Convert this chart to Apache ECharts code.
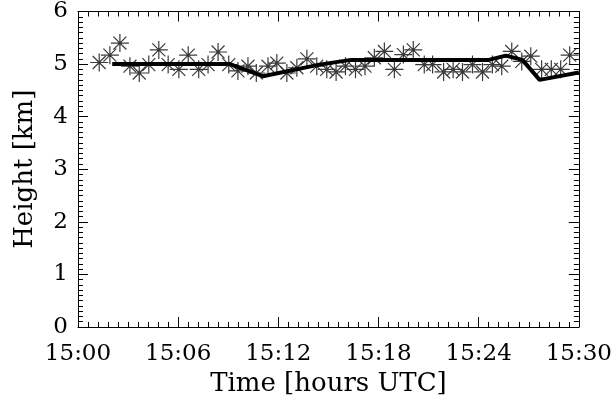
<!DOCTYPE html>
<html>
<head>
    <meta charset="UTF-8">
    <title>Height</title>
    <script type="text/javascript" src="https://cdn.jsdelivr.net/npm/echarts@6/dist/echarts.min.js"></script>
</head>
<body style="margin:0">
    <div id="chart" style="width:615px; height:404px;"></div>
    <script>
        // minutes after 15:00
        var starTimes = [1.27, 1.91, 2.51, 3.11, 3.67, 4.24, 4.84, 5.40, 6.04, 6.60, 7.23, 7.79, 8.39, 9.03,
            9.58, 10.18, 10.68, 11.38, 11.91, 12.51, 13.11, 13.71, 14.30, 14.90, 15.46, 16.02, 16.62,
            17.19, 17.75, 18.35, 18.95, 19.49, 20.08, 20.74, 21.24, 21.90, 22.47, 23.03, 23.63, 24.23,
            24.82, 25.38, 25.98, 26.58, 27.12, 27.77, 28.35, 28.91, 29.45];
        var starHeights = [5.03, 5.17, 5.40, 4.96, 4.83, 4.99, 5.27, 4.99, 4.90, 5.17, 4.90, 4.99, 5.23, 4.99,
            4.87, 4.96, 4.83, 4.96, 5.02, 4.83, 4.93, 5.10, 4.96, 4.90, 4.85, 4.96, 4.90,
            4.96, 5.12, 5.24, 4.90, 5.18, 5.27, 4.99, 4.99, 4.85, 4.90, 4.85, 4.99, 4.85,
            4.99, 4.96, 5.24, 5.05, 5.15, 4.90, 4.90, 4.90, 5.17];
        var lineTimes = [2.05, 9.1, 11.08, 14.46, 16.36, 24.6, 25.62, 26.62, 27.65, 30];
        var lineHeights = [5.0, 5.0, 4.77, 4.99, 5.08, 5.08, 5.16, 5.08, 4.70, 4.84];
        var xTicks = ['15:00', '15:06', '15:12', '15:18', '15:24', '15:30'];

        var font = 'DejaVu Serif';
        var starData = starTimes.map(function (t, i) { return [t, starHeights[i]]; });
        var lineData = lineTimes.map(function (t, i) { return [t, lineHeights[i]]; });

        function axisBase(show) {
            return {
                axisLine: {show: true, onZero: false, lineStyle: {color: '#000', width: 1}},
                axisTick: {show: true, inside: true, length: 10, lineStyle: {color: '#000'}},
                minorTick: {show: true, splitNumber: 10, length: 5, lineStyle: {color: '#000'}},
                splitLine: {show: false},
                axisLabel: {show: show, color: '#000', fontFamily: font, fontSize: 23}
            };
        }

        var xMain = Object.assign(axisBase(true), {
            type: 'value', min: 0, max: 30, interval: 6, position: 'bottom',
            name: 'Time [hours UTC]', nameLocation: 'middle', nameGap: 44,
            nameTextStyle: {color: '#000', fontFamily: font, fontSize: 26}
        });
        xMain.axisLabel.margin = 16;
        xMain.axisLabel.formatter = function (v) { return xTicks[Math.round(v / 6)]; };

        var xTop = Object.assign(axisBase(false), {
            type: 'value', min: 0, max: 30, interval: 6, position: 'top'
        });

        var yMain = Object.assign(axisBase(true), {
            type: 'value', min: 0, max: 6, interval: 1, position: 'left',
            name: 'Height [km]', nameLocation: 'middle', nameGap: 40, nameRotate: 90,
            nameTextStyle: {color: '#000', fontFamily: font, fontSize: 26}
        });
        yMain.axisLabel.margin = 10;

        var yRight = Object.assign(axisBase(false), {
            type: 'value', min: 0, max: 6, interval: 1, position: 'right'
        });

        var chart = echarts.init(document.getElementById('chart'), null, {renderer: 'canvas'});
        chart.setOption({
            animation: false,
            backgroundColor: '#fff',
            grid: {left: 78, right: 35, top: 8, bottom: 77},
            xAxis: [xMain, xTop],
            yAxis: [yMain, yRight],
            series: [
                {
                    type: 'scatter',
                    data: starData,
                    symbol: 'path://M0,-1L0,1M-1,0L1,0M-0.72,-0.72L0.72,0.72M-0.72,0.72L0.72,-0.72M-0.12,-0.12L0.12,-0.12L0.12,0.12L-0.12,0.12Z',
                    symbolSize: 18,
                    itemStyle: {color: '#000', borderColor: '#3a3a3a', borderWidth: 1.2, opacity: 1}
                },
                {
                    type: 'line',
                    data: lineData,
                    showSymbol: false,
                    symbol: 'none',
                    lineStyle: {color: '#000', width: 4}
                }
            ]
        });
    </script>
</body>
</html>
